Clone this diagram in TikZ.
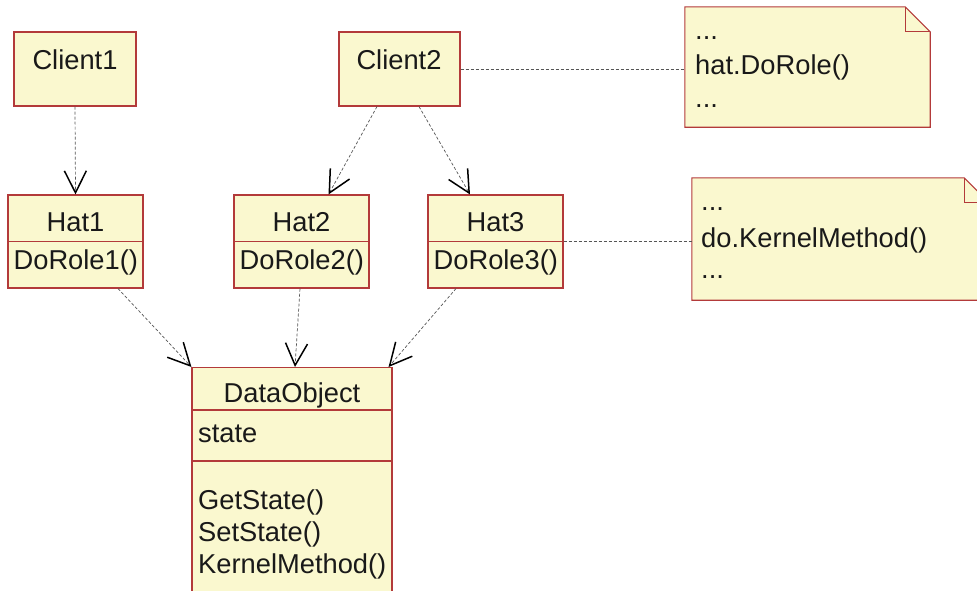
\documentclass[tikz,border=0pt]{standalone}
\usepackage{fontspec}
\setmainfont{Liberation Sans}
\usetikzlibrary{arrows.meta}
\definecolor{umlfill}{HTML}{FAF8CF}
\definecolor{umlline}{HTML}{B33A3A}
\definecolor{dashgray}{HTML}{555555}
\begin{document}
\begin{tikzpicture}[x=1pt,y=-1pt,
	box/.style={draw=umlline,fill=umlfill,line width=1.1pt,inner sep=0pt},
	lbl/.style={inner sep=0pt,font=\fontsize{27.3}{32}\selectfont,text=black!90},
	dep/.style={draw=dashgray,line width=0.7pt,dash pattern=on 3pt off 2pt,
		-{Straight Barb[length=22pt,width=22pt,line width=1.5pt,color=black]}},
	link/.style={draw=dashgray,line width=0.7pt,dash pattern=on 3pt off 2pt}]
			\useasboundingbox(0,0) rectangle (977,590);
			\clip(0,0) rectangle (977,590);
			% clients
			\node[box,minimum width=122pt,minimum height=74pt](c1) at(75,69){};
			\node[box,minimum width=121pt,minimum height=74pt](c2) at(399.5,69){};
			\node[lbl,anchor=base](c1t) at(75,69){Client1};
			\node[lbl,anchor=base](c2t) at(399,69){Client2};
			% hats
			\node[box,minimum width=135pt,minimum height=93pt](h1) at(75.5,241.5){};
			\node[box,minimum width=135pt,minimum height=93pt](h2) at(301.5,241.5){};
			\node[box,minimum width=135pt,minimum height=93pt](h3) at(495.5,241.5){};
			\foreach \h/\i in {h1/1,h2/2,h3/3}{
				\draw[umlline,line width=1.1pt](\h.west)--(\h.east);
				\node[lbl,anchor=base](\h t) at([yshift=-37pt]\h.north){Hat\i};
				\node[lbl,anchor=base west](\h m) at([xshift=6pt,yshift=-28pt]\h.west){DoRole\i()};
			}
			% data object
			\node[box,minimum width=200pt,minimum height=240pt,anchor=north](do) at(292,367){};
			\draw[umlline,line width=1.1pt](192,410)--(392,410);
			\draw[umlline,line width=1.1pt](192,461)--(392,461);
			\node[lbl,anchor=base](dot) at(292,402){DataObject};
			\node[lbl,anchor=base west](dos) at(198,442){state};
			\node[lbl,anchor=base west](dog) at(198,509){GetState()};
			\node[lbl,anchor=base west](dost) at(198,541){SetState()};
			\node[lbl,anchor=base west](dok) at(198,573){KernelMethod()};
			% notes
			\node[minimum width=245pt,minimum height=120pt,inner sep=0pt](n1) at(807.5,67){};
			\node[minimum width=297pt,minimum height=122pt,inner sep=0pt](n2) at(840.5,239){};
			\foreach \n in {n1,n2}{
				\draw[box](\n.north west)--([xshift=-25pt]\n.north east)--([yshift=-25pt]\n.north east)
					--(\n.south east)--(\n.south west)--cycle;
				\draw[umlline,line width=1.1pt]([xshift=-25pt]\n.north east)|-([yshift=-25pt]\n.north east);
			}
			\node[lbl,anchor=base west](n1a) at(695,39){...};
			\node[lbl,anchor=base west](n1b) at(695,74){hat.DoRole()};
			\node[lbl,anchor=base west](n1c) at(695,107){...};
			\node[lbl,anchor=base west](n2a) at(701,210){...};
			\node[lbl,anchor=base west](n2b) at(701,247){do.KernelMethod()};
			\node[lbl,anchor=base west](n2c) at(701,278){...};
			% dependencies
			\draw[dep](c1.south)--(h1.north);
			\draw[dep]([xshift=-22.5pt]c2.south)--([xshift=27pt]h2.north);
			\draw[dep]([xshift=19.5pt]c2.south)--([xshift=-25.5pt]h3.north);
			\draw[dep]([xshift=42.5pt]h1.south)--(do.north west);
			\draw[dep]([xshift=-1.5pt]h2.south)--([xshift=3pt]do.north);
			\draw[dep]([xshift=-39.5pt]h3.south)--([xshift=-4pt]do.north east);
			\draw[link](c2.east)--(n1.west|-c2.east);
			\draw[link](h3.east)--(n2.west|-h3.east);
			\end{tikzpicture}
\end{document}
